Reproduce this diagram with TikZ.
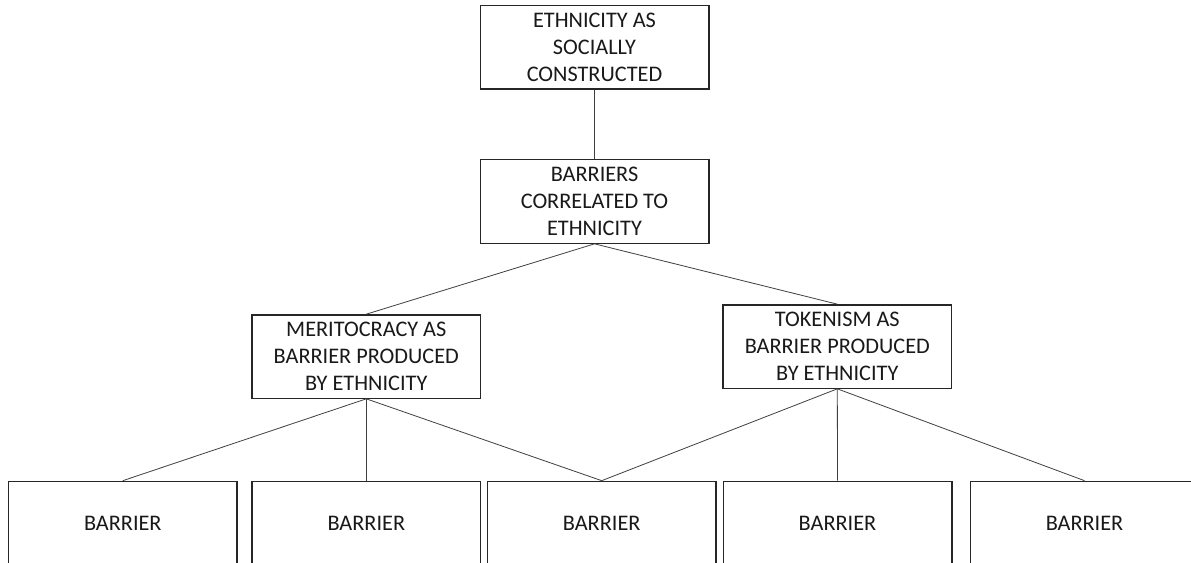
\documentclass[tikz,border=0pt]{standalone}
\usepackage{fontspec}
\setmainfont{Carlito}
\begin{document}
\begin{tikzpicture}[x=0.75pt,y=-0.75pt,
  box/.style={draw=black!85, line width=1pt, fill=white, inner sep=0pt,
    minimum width=171.5pt, minimum height=62.5pt, align=center,
    font=\fontsize{16.7}{20}\selectfont, text=black!90},
  link/.style={draw=black!75, line width=0.6pt}]
  \clip (0,0) rectangle (1191,563);
  \fill[white] (0,0) rectangle (1191,563);

  % upper levels
  \node[box] (eth) at (594.5,47.5) {ETHNICITY AS\\SOCIALLY\\CONSTRUCTED};
  \node[box] (bar) at (594.5,201.5) {BARRIERS\\CORRELATED TO\\ETHNICITY};
  \node[box] (mer) at (366.3,356.5) {MERITOCRACY AS\\BARRIER PRODUCED\\BY ETHNICITY};
  \node[box] (tok) at (837.3,346.5) {TOKENISM AS\\BARRIER PRODUCED\\BY ETHNICITY};

  % bottom row of barriers
  \node[box] (b1) at (122.8,523) {BARRIER};
  \node[box] (b2) at (366.3,523) {BARRIER};
  \node[box] (b3) at (601.7,523) {BARRIER};
  \node[box] (b4) at (837.5,523) {BARRIER};
  \node[box] (b5) at (1084.5,523) {BARRIER};

  % connectors
  \draw[link] (eth.south) -- (bar.north);
  \draw[link] (bar.south) -- (mer.north);
  \draw[link] (bar.south) -- (tok.north);
  \draw[link] (mer.south) -- (b1.north);
  \draw[link] (mer.south) -- (b2.north);
  \draw[link] (mer.south) -- (b3.north);
  \draw[link] (tok.south) -- (b3.north);
  \draw[link] (tok.south) -- (b4.north);
  \draw[link] (tok.south) -- (b5.north);
\end{tikzpicture}
\end{document}
